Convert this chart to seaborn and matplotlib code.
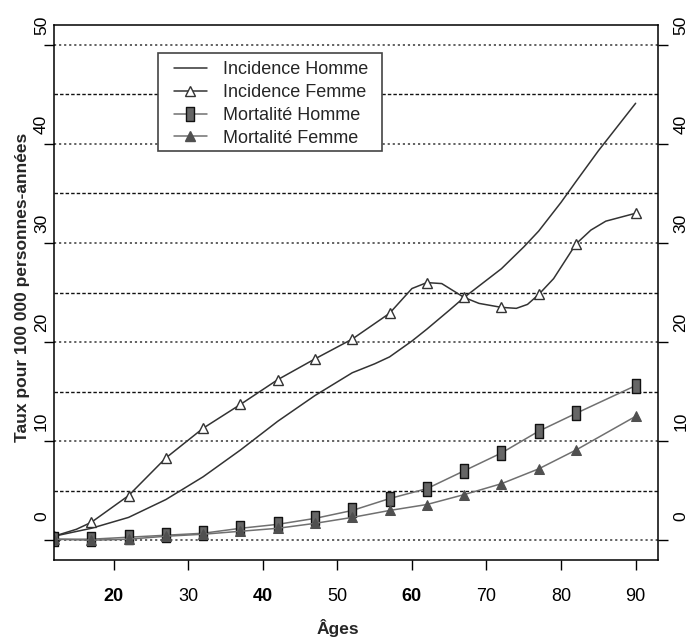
import numpy as np
import matplotlib
matplotlib.use("Agg")
import matplotlib.pyplot as plt
import matplotlib.transforms as mtransforms
from matplotlib import font_manager
from matplotlib.lines import Line2D
from matplotlib.patches import Rectangle
from matplotlib.path import Path
import seaborn as sns

# ages where the markers sit
ages5 = [12, 17, 22, 27, 32, 37, 42, 47, 52, 57, 62, 67, 72, 77, 82, 90]

# incidence homme: plain curve, read at a few more ages
inc_homme_ages = [12, 17, 22, 27, 32, 37, 42, 47, 52, 55, 57, 60, 62, 65, 67, 72, 75, 77,
                  80, 82, 85, 90]
inc_homme = [0.4, 1.2, 2.3, 4.1, 6.4, 9.1, 12.0, 14.6, 16.9, 17.8, 18.5, 20.1, 21.3, 23.2,
             24.5, 27.4, 29.6, 31.2, 34.1, 36.2, 39.3, 44.1]

# incidence femme: curve, markers at the 5-year ages
inc_femme_ages = [12, 15, 17, 22, 27, 32, 37, 42, 47, 52, 57, 60, 62, 64, 67, 69, 72, 74,
                  75.5, 77, 79, 82, 84, 86, 90]
inc_femme = [0.4, 1.1, 1.8, 4.5, 8.3, 11.3, 13.7, 16.2, 18.3, 20.3, 22.9, 25.4, 26.0, 25.9,
             24.5, 23.9, 23.5, 23.4, 23.8, 24.8, 26.4, 29.9, 31.3, 32.2, 33.0]

mort_homme = [0.1, 0.1, 0.3, 0.5, 0.7, 1.2, 1.6, 2.2, 3.0, 4.2, 5.2, 7.0, 8.8, 11.0, 12.8, 15.6]
mort_femme = [0.1, 0.0, 0.1, 0.4, 0.6, 0.9, 1.2, 1.7, 2.3, 3.0, 3.6, 4.6, 5.7, 7.2, 9.1, 12.5]

labels = ["Incidence Homme", "Incidence Femme", "Mortalité Homme", "Mortalité Femme"]
bold_xticks = [20, 40, 60]

sns.set_style("ticks")
plt.rcParams['font.family'] = ['Liberation Sans', 'DejaVu Sans']
installed = {f.name for f in font_manager.fontManager.ttflist}
tick_font = 'Liberation Sans Narrow' if 'Liberation Sans Narrow' in installed else 'Liberation Sans'

dark = "#333333"
grey = "#707070"
rect = Path([(-0.32, -0.5), (0.32, -0.5), (0.32, 0.5), (-0.32, 0.5), (-0.32, -0.5)], closed=True)

fig = plt.figure(figsize=(6.88, 6.41), dpi=100)
ax = fig.add_axes([54 / 688, 1 - 560 / 641, 604 / 688, 535 / 641])

# grid: dotted grey at the tens, dashed black at the fives
ax.set_yticks(np.arange(0, 51, 10))
ax.set_yticks(np.arange(5, 51, 10), minor=True)
ax.yaxis.grid(True, which='major', color='#555555', linestyle=(0, (1.2, 1.6)), linewidth=1.3)
ax.yaxis.grid(True, which='minor', color='#111111', linestyle=(0, (2.5, 1.5)), linewidth=1.0)
ax.set_axisbelow(True)

sns.lineplot(x=inc_homme_ages, y=inc_homme, ax=ax, color=dark, linewidth=1.1)
marks = [inc_femme_ages.index(a) for a in ages5]
sns.lineplot(x=inc_femme_ages, y=inc_femme, ax=ax, color=dark, linewidth=1.1,
             marker='^', markersize=7, markerfacecolor='white', markeredgecolor=dark,
             markeredgewidth=1.0, markevery=marks)
sns.lineplot(x=ages5, y=mort_homme, ax=ax, color=grey, linewidth=1.1,
             marker=rect, markersize=10, markerfacecolor='#666666', markeredgecolor='#111111',
             markeredgewidth=1.0)
sns.lineplot(x=ages5, y=mort_femme, ax=ax, color=grey, linewidth=1.1,
             marker='^', markersize=7, markerfacecolor='#505050', markeredgecolor='#505050')

ax.set_xlim(12, 93)
ax.set_ylim(-2, 52)

for sp in ax.spines.values():
    sp.set_color('black')
    sp.set_linewidth(1.1)

ax.set_xticks(range(20, 91, 10))
ax.tick_params(axis='x', length=7, width=1, pad=13, labelsize=13, color='black',
               labelcolor='black')
ax.tick_params(axis='y', which='major', left=True, right=True, labelleft=True, labelright=True,
               length=7, width=1, pad=1, labelsize=12.5, labelrotation=90, color='black',
               labelcolor='black')
ax.tick_params(axis='y', which='minor', length=0)

for lbl in ax.get_xticklabels():
    lbl.set_fontfamily(tick_font)
    if int(float(lbl.get_text().replace('\u2212', '-'))) in bold_xticks:
        lbl.set_fontweight('bold')

# tick labels of the y axis sit above their ticks
off_left = mtransforms.ScaledTranslation(0.06, 0.23, fig.dpi_scale_trans)
off_right = mtransforms.ScaledTranslation(0.045, 0.23, fig.dpi_scale_trans)
for t in ax.yaxis.get_major_ticks():
    t.label1.set_fontfamily(tick_font)
    t.label2.set_fontfamily(tick_font)
    t.label1.set_transform(t.label1.get_transform() + off_left)
    t.label2.set_transform(t.label2.get_transform() + off_right)

ax.set_xlabel("Âges", fontsize=12.5, fontweight='bold')
ax.xaxis.set_label_coords(0.47, -0.11)
ax.set_ylabel("Taux pour 100 000 personnes-années", fontsize=12.5, fontweight='bold')
ax.yaxis.set_label_coords(-0.04, 0.51)

# legend
ax.add_patch(Rectangle((0.172, 0.7645), 0.371, 0.1835, transform=ax.transAxes,
                       facecolor='white', edgecolor='#444444', linewidth=1.2, zorder=5))
handles = [
    Line2D([], [], color=dark, linewidth=1.1),
    Line2D([], [], color=dark, linewidth=1.1, marker='^', markersize=7,
           markerfacecolor='white', markeredgecolor=dark),
    Line2D([], [], color=grey, linewidth=1.1, marker=rect, markersize=10,
           markerfacecolor='#666666', markeredgecolor='#111111'),
    Line2D([], [], color=grey, linewidth=1.1, marker='^', markersize=7,
           markerfacecolor='#505050', markeredgecolor='#505050'),
]
leg = ax.legend(handles, labels, loc='upper left', bbox_to_anchor=(0.1987, 0.932),
                frameon=False, fontsize=13, handlelength=1.8, handletextpad=0.9,
                labelspacing=0.32, borderpad=0, borderaxespad=0)
leg.set_zorder(6)

fig.savefig("out.png", dpi=100)
